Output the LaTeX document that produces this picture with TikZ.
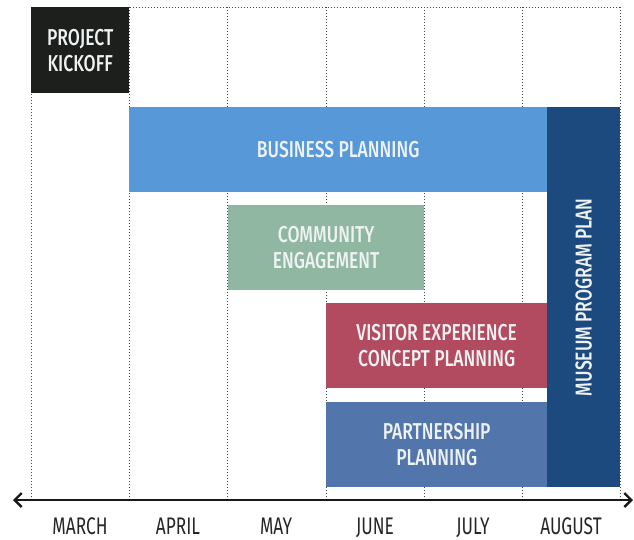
\documentclass[tikz,border=0pt]{standalone}
\usepackage{fontspec}
\setmainfont{Fira Sans}[UprightFont=* Medium, FakeStretch=0.76]
\newfontfamily\monthfont{Fira Sans}[FakeStretch=0.72]
\usetikzlibrary{arrows.meta}
\definecolor{kickoff}{HTML}{1D1F1C}
\definecolor{business}{HTML}{5798D8}
\definecolor{museum}{HTML}{1D4A7E}
\definecolor{community}{HTML}{90B7A2}
\definecolor{visitor}{HTML}{B34B60}
\definecolor{partner}{HTML}{5276AC}
\definecolor{gridgray}{HTML}{444444}
\definecolor{bartext}{HTML}{EEF2F2}
\begin{document}
\begin{tikzpicture}[x=1pt,y=-1pt,
  gridline/.style={draw=gridgray, line width=0.8pt, dash pattern=on 1.1pt off 1.9pt},
  bar/.style={anchor=north west, inner sep=0pt, align=center, text=bartext,
    font=\fontsize{23}{26}\selectfont},
  month/.style={anchor=base, font=\monthfont\fontsize{24}{26}\selectfont, text=black!85},
  axisline/.style={line width=2.6pt, draw=black!90,
    {Straight Barb[length=7pt,width=14pt,line width=2.4pt]}-{Straight Barb[length=7pt,width=14pt,line width=2.4pt]}},
]
\useasboundingbox (0,0) rectangle (634,539);

% month grid: dotted column borders and top edge
\foreach \x in {31,129,227.5,326,424,522,620}
  \draw[gridline] (\x,7) -- (\x,500);
\draw[gridline] (31,7) -- (620,7);

% activity bars
\node[bar, fill=kickoff, minimum width=98pt, minimum height=86pt] (kickoff) at (31,7) {PROJECT\\KICKOFF};
\node[bar, fill=business, minimum width=418pt, minimum height=85pt] (business) at (129,107) {BUSINESS PLANNING};
\node[bar, fill=community, minimum width=196pt, minimum height=85pt] (community) at (228,205) {COMMUNITY\\ENGAGEMENT};
\node[bar, fill=visitor, minimum width=221pt, minimum height=85pt] (visitor) at (326,303) {VISITOR EXPERIENCE\\CONCEPT PLANNING};
\node[bar, fill=partner, minimum width=221pt, minimum height=85pt] (partner) at (326,402) {PARTNERSHIP\\PLANNING};
\node[bar, fill=museum, minimum width=73pt, minimum height=380pt] (museum) at (547,107) {};
\node[rotate=90, text=bartext, font=\fontsize{23}{26}\selectfont, inner sep=0pt] (museumlabel) at (museum.center) {MUSEUM PROGRAM PLAN};

% time axis
\coordinate (axL) at (13,500);
\coordinate (axR) at (633,500);
\draw[axisline] (axL) -- (axR);

% month labels
\node[month] (march) at (80,534) {MARCH};
\node[month] (april) at (178,534) {APRIL};
\node[month] (may) at (276,534) {MAY};
\node[month] (june) at (375,534) {JUNE};
\node[month] (july) at (473,534) {JULY};
\node[month] (august) at (571,534) {AUGUST};
\end{tikzpicture}
\end{document}
